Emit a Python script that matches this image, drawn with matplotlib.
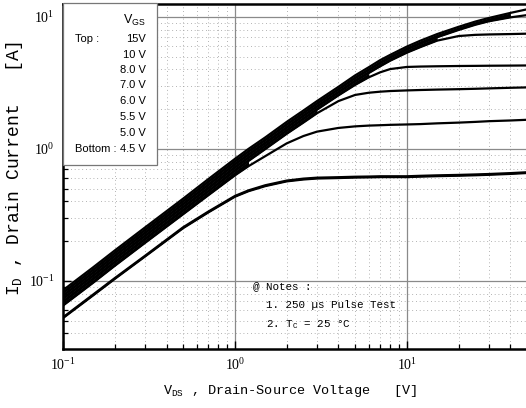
import matplotlib
matplotlib.use("Agg")
import matplotlib.pyplot as plt
import numpy as np
from matplotlib.ticker import LogLocator, NullFormatter

# ---- data ----
vds = [0.1, 0.15, 0.2, 0.3, 0.5, 0.7, 1, 1.2, 1.5, 2, 2.5, 3, 4, 5, 6, 7, 8,
       10, 12, 15, 20, 25, 30, 40, 50]
vgs_labels = ["15V", "10 V", "8.0 V", "7.0 V", "6.0 V", "5.5 V", "5.0 V", "4.5 V"]
id_15v = [0.085, 0.127, 0.17, 0.254, 0.42, 0.59, 0.84, 1.0, 1.22, 1.6, 1.95, 2.3, 2.95, 3.6,
          4.15, 4.7, 5.15, 5.95, 6.6, 7.4, 8.4, 9.2, 9.8, 10.7, 11.4]
id_10v = [0.081, 0.121, 0.162, 0.242, 0.40, 0.56, 0.80, 0.95, 1.16, 1.52, 1.86, 2.19, 2.81, 3.42,
          3.95, 4.45, 4.9, 5.65, 6.25, 7.0, 7.95, 8.7, 9.25, 9.9, 10.3]
id_8v = [0.077, 0.115, 0.154, 0.23, 0.38, 0.53, 0.76, 0.9, 1.1, 1.44, 1.77, 2.08, 2.67, 3.24,
         3.75, 4.22, 4.65, 5.35, 5.9, 6.6, 7.15, 7.3, 7.35, 7.4, 7.45]
id_7v = [0.073, 0.109, 0.146, 0.218, 0.36, 0.50, 0.72, 0.855, 1.05, 1.37, 1.68, 1.98, 2.54, 3.05,
         3.48, 3.8, 4.02, 4.17, 4.2, 4.22, 4.24, 4.25, 4.26, 4.27, 4.28]
id_6v = [0.069, 0.103, 0.138, 0.206, 0.34, 0.475, 0.68, 0.81, 0.995, 1.3, 1.58, 1.86, 2.3, 2.56,
         2.66, 2.71, 2.74, 2.77, 2.79, 2.81, 2.83, 2.85, 2.87, 2.9, 2.92]
id_55v = [0.065, 0.097, 0.13, 0.194, 0.32, 0.445, 0.63, 0.74, 0.88, 1.1, 1.25, 1.35, 1.44, 1.48,
          1.5, 1.51, 1.52, 1.53, 1.54, 1.56, 1.58, 1.6, 1.62, 1.64, 1.66]
id_5v = [0.053, 0.079, 0.105, 0.155, 0.255, 0.335, 0.44, 0.485, 0.53, 0.575, 0.595, 0.605, 0.61,
         0.615, 0.617, 0.62, 0.62, 0.62, 0.625, 0.63, 0.635, 0.64, 0.645, 0.655, 0.665]
id_45v = [0.0523, 0.0778, 0.1035, 0.153, 0.251, 0.330, 0.434, 0.478, 0.522, 0.567, 0.586, 0.596,
          0.601, 0.606, 0.608, 0.611, 0.611, 0.611, 0.616, 0.621, 0.626, 0.631, 0.636, 0.646, 0.656]
curves = [id_15v, id_10v, id_8v, id_7v, id_6v, id_55v, id_5v, id_45v]

W, H = 526, 408
fig = plt.figure(figsize=(W / 100, H / 100), dpi=100)
ax = fig.add_axes([63 / W, 1 - 349 / H, (W - 63) / W + 0.002, 345 / H])
ax.set_xscale("log")
ax.set_yscale("log")
ax.set_xlim(0.1, 50)
ax.set_ylim(0.0305, 12.5)

# grids
ax.grid(True, which="major", color="#8a8a8a", lw=0.9, ls="-", zorder=1)
ax.grid(True, which="minor", color="#9a9a9a", lw=0.6, ls=(0, (1, 3.5)), zorder=1)

# curves
vx = np.array(vds)
arrs = [np.array(c) for c in curves]
for c in arrs:
    ax.plot(vx, c, color="black", lw=1.6, solid_capstyle="butt", zorder=3)
for upper, lower in zip(arrs[:-1], arrs[1:]):
    close = (upper / lower) < 1.1
    ax.fill_between(vx, lower, upper, where=close, color="black", lw=0, zorder=3)

# ticks
ax.xaxis.set_major_locator(LogLocator(base=10, numticks=10))
ax.yaxis.set_major_locator(LogLocator(base=10, numticks=10))
ax.xaxis.set_minor_locator(LogLocator(base=10, subs=np.arange(2, 10), numticks=20))
ax.yaxis.set_minor_locator(LogLocator(base=10, subs=np.arange(2, 10), numticks=20))
ax.xaxis.set_minor_formatter(NullFormatter())
ax.yaxis.set_minor_formatter(NullFormatter())
ax.tick_params(which="major", direction="in", length=6, width=1.0, labelsize=10,
               labelfontfamily="Liberation Serif", pad=6)
ax.tick_params(which="minor", direction="in", length=3.5, width=0.9)
ax.tick_params(top=False, right=False)

for side in ["left", "bottom", "top"]:
    ax.spines[side].set_linewidth(1.8)
ax.spines["right"].set_visible(False)

# axis labels
ax.set_xlabel(r"$\mathregular{V_{DS}}$ , Drain-Source Voltage   [V]",
              fontfamily="Liberation Mono", fontsize=9.7)
ax.xaxis.set_label_coords((289.5 - 63) / 463, (349 - 383) / 345)
ax.set_ylabel(r"$\mathregular{I_{D}}$ , Drain Current   [A]",
              fontfamily="Liberation Mono", fontsize=13)
ax.yaxis.set_label_coords((25 - 63) / 463, (349 - 168.5) / 345)

# legend box
def px(x, y):
    return x / W, 1 - y / H

box = plt.Rectangle(px(63, 165), 94 / W, 162 / H, transform=fig.transFigure,
                    facecolor="white", edgecolor="#777777", lw=0.9, zorder=5)
fig.add_artist(box)
lf = dict(fontfamily="Liberation Sans", fontsize=8, transform=fig.transFigure, zorder=6,
          va="center")
fig.text(*px(146, 20), r"$\mathregular{V_{GS}}$", ha="right",
         **{**lf, "fontsize": 9})
fig.text(*px(75, 39), "Top :", ha="left", **lf)
ys = [39, 54.5, 70, 85.5, 101, 117, 133, 149]
for lab, yy in zip(vgs_labels, ys):
    fig.text(*px(146, yy), lab, ha="right", **lf)
fig.text(*px(75, 149), "Bottom :", ha="left", **lf)

# notes
nf = dict(fontfamily="Liberation Mono", fontsize=7.8, transform=fig.transFigure, zorder=6,
          va="center", ha="left")
fig.text(*px(253, 286), "@ Notes :", **nf)
fig.text(*px(266, 305), "1. 250 \u00b5s Pulse Test", **nf)
fig.text(*px(266, 325), "2. $\\mathregular{T_{C}}$ = 25 \u00b0C", **nf)

fig.savefig("out.png", dpi=100)
